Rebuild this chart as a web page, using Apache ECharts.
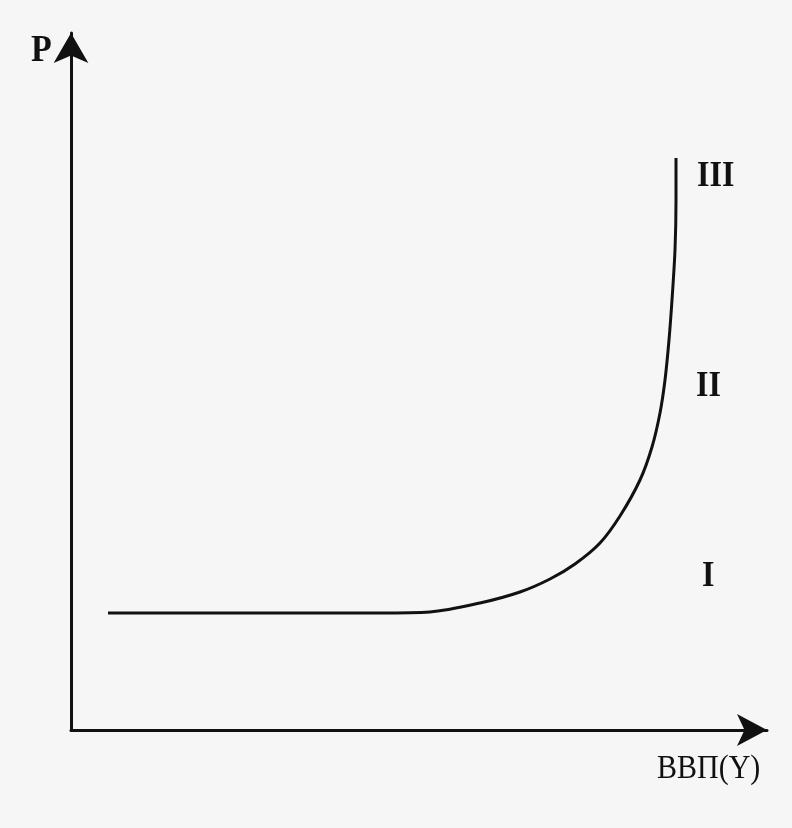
<!DOCTYPE html>
<html>
<head>
<meta charset="utf-8">
<script src="https://cdn.jsdelivr.net/npm/echarts@6/dist/echarts.min.js"></script>
<style>
html,body{margin:0;padding:0;background:#f6f6f6;}
#c{width:792px;height:828px;}
</style>
</head>
<body>
<div id="c"></div>
<script>
// Aggregate supply curve points (axis units)
const curveX = [37, 179, 309, 359, 409, 449, 479, 504, 529, 549, 569, 581, 589, 594, 598, 601, 604, 605, 605];
const curveY = [117, 117, 117, 118, 127, 138, 151, 166, 187, 214, 250, 283, 317, 350, 390, 430, 480, 530, 572];
const axisMaxX = 696;
const axisMaxY = 697;
const yAxisLabel = 'P';
const xAxisLabel = 'ВВП(Y)';
const segmentLabels = ['III', 'II', 'I'];

const chart = echarts.init(document.getElementById('c'), null, {renderer: 'canvas'});
const serif = '"Liberation Serif", "DejaVu Serif", serif';
chart.setOption({
  backgroundColor: '#f6f6f6',
  animation: false,
  grid: {left: 71, right: 25, top: 33, bottom: 98},
  xAxis: {
    type: 'value', min: 0, max: axisMaxX,
    axisLine: {show: true, onZero: false, symbol: ['none', 'arrow'], symbolSize: [24, 30], lineStyle: {color: '#111', width: 3}},
    axisTick: {show: false}, axisLabel: {show: false}, splitLine: {show: false}
  },
  yAxis: {
    type: 'value', min: 0, max: axisMaxY,
    axisLine: {show: true, onZero: false, symbol: ['none', 'arrow'], symbolSize: [26, 30], lineStyle: {color: '#111', width: 3}},
    axisTick: {show: false}, axisLabel: {show: false}, splitLine: {show: false}
  },
  series: [{
    type: 'line',
    data: curveX.map((x, i) => [x, curveY[i]]),
    smooth: 0.3,
    showSymbol: false,
    lineStyle: {color: '#111', width: 3}
  }],
  graphic: [
    {type: 'text', x: 31, y: 33, scaleY: 1.1, style: {text: yAxisLabel, font: 'bold 34px ' + serif, fill: '#111'}},
    {type: 'text', x: 657, y: 752, scaleY: 1.15, style: {text: xAxisLabel, font: '30px ' + serif, fill: '#111'}},
    {type: 'text', x: 697, y: 158, scaleY: 1.15, style: {text: segmentLabels[0], font: 'bold 32px ' + serif, fill: '#111'}},
    {type: 'text', x: 696, y: 368, scaleY: 1.15, style: {text: segmentLabels[1], font: 'bold 32px ' + serif, fill: '#111'}},
    {type: 'text', x: 702, y: 558, scaleY: 1.15, style: {text: segmentLabels[2], font: 'bold 32px ' + serif, fill: '#111'}}
  ]
});
</script>
</body>
</html>
